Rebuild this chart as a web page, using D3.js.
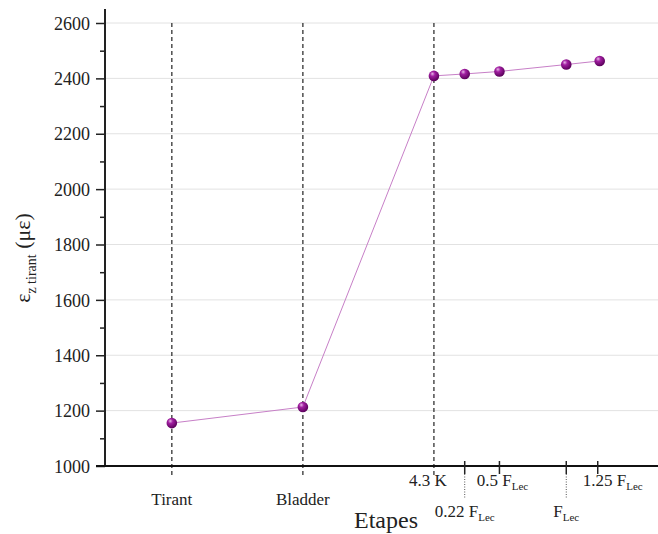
<!DOCTYPE html>
<html><head><meta charset="utf-8">
<script src="https://cdn.jsdelivr.net/npm/d3@7"></script>
<style>body{margin:0;background:#fff}svg{display:block}svg text{font-family:'Liberation Serif','Times New Roman',serif !important;fill:#222}</style>
</head><body><svg id="c" width="658" height="534"></svg>
<script>
const stageNames = ["Tirant","Bladder","4.3 K","0.22 F","0.5 F","F","1.25 F"];
const stageX = [1, 2, 3, 3.235, 3.5, 4.01, 4.265];
const strainValues = [1155, 1213, 2409, 2416, 2425, 2450, 2463];
const tickX = [3.235, 3.5, 4.01, 4.25];
const dashedStages = [0, 1, 2];
const yMajorTicks = [1000,1200,1400,1600,1800,2000,2200,2400,2600];
const yMinorTicks = [1100,1300,1500,1700,1900,2100,2300,2500];
const tickLabels = [
  {x:1, main:"Tirant", sub:"", row:"far", off:0},
  {x:2, main:"Bladder", sub:"", row:"far", off:0},
  {x:3, main:"4.3 K", sub:"", row:"top", off:-6},
  {x:3.235, main:"0.22 F", sub:"Lec", row:"low", off:0},
  {x:3.5, main:"0.5 F", sub:"Lec", row:"top", off:3},
  {x:4.01, main:"F", sub:"Lec", row:"low", off:0},
  {x:4.25, main:"1.25 F", sub:"Lec", row:"top", off:15}
];

const svg = d3.select("#c");
const L = 105, R = 658, T = 23, B = 466;
const x = d3.scaleLinear().domain([0.49, 4.71]).range([L, R]);
const y = d3.scaleLinear().domain([1000, 2600]).range([B, T]);

// gridlines
svg.append("g").selectAll("line").data(yMajorTicks.filter(v=>v>1000)).join("line")
  .attr("x1", L).attr("x2", R).attr("y1", d=>y(d)).attr("y2", d=>y(d))
  .attr("stroke", "#e2e2e2").attr("stroke-width", 1);

// dashed vertical lines
svg.append("g").selectAll("line").data(dashedStages).join("line")
  .attr("x1", d=>x(stageX[d])).attr("x2", d=>x(stageX[d]))
  .attr("y1", y(2600)).attr("y2", B + 10)
  .attr("stroke", "#333").attr("stroke-width", 1.3).attr("stroke-dasharray", "4,3");

// y axis
const yAxis = d3.axisLeft(y).tickValues(yMajorTicks).tickSize(9).tickPadding(6).tickFormat(d3.format("d"));
const gy = svg.append("g").attr("transform", `translate(${L},0)`).call(yAxis);
gy.attr("font-family", "Liberation Serif").attr("font-size", 18);
gy.select(".domain").remove();
gy.selectAll(".tick line").attr("stroke", "#222").attr("stroke-width", 1.5);
gy.selectAll(".tick text").attr("fill", "#222").attr("dy", "0.34em");
const gyMinor = svg.append("g").attr("transform", `translate(${L},0)`)
  .call(d3.axisLeft(y).tickValues(yMinorTicks).tickSize(5).tickFormat(""));
gyMinor.select(".domain").remove();
gyMinor.selectAll(".tick line").attr("stroke", "#222").attr("stroke-width", 1.5);
svg.append("line").attr("x1", L).attr("x2", L).attr("y1", 9).attr("y2", B)
  .attr("stroke", "#222").attr("stroke-width", 2);

// x axis
svg.append("line").attr("x1", L - 9).attr("x2", R).attr("y1", B).attr("y2", B)
  .attr("stroke", "#111").attr("stroke-width", 2);
svg.append("g").selectAll("line").data(tickX).join("line")
  .attr("x1", d=>x(d)).attr("x2", d=>x(d))
  .attr("y1", B - 5).attr("y2", B + 8).attr("stroke", "#222").attr("stroke-width", 1.5);
svg.append("g").selectAll("line").data([tickX[0], tickX[2]]).join("line")
  .attr("x1", d=>x(d)).attr("x2", d=>x(d))
  .attr("y1", B + 8).attr("y2", B + 32).attr("stroke", "#555").attr("stroke-width", 1).attr("stroke-dasharray", "1,1.5");

// x labels
const rowY = {far: 505, top: 486, low: 517};
tickLabels.forEach(t => {
  const tx = svg.append("text")
    .attr("x", x(t.x) + t.off).attr("y", rowY[t.row])
    .attr("text-anchor", "middle").style("font-size", "17px");
  tx.append("tspan").text(t.main);
  if (t.sub) tx.append("tspan").attr("dy", 4).style("font-size", "11px").text(t.sub);
});

// line
const pts = stageX.map((v,i)=>({x:v, y:strainValues[i]}));
svg.append("path").datum(pts)
  .attr("d", d3.line().x(d=>x(d.x)).y(d=>y(d.y)))
  .attr("fill", "none").attr("stroke", "#c77fc7").attr("stroke-width", 1);

// markers with sphere gradient
const defs = svg.append("defs");
const grad = defs.append("radialGradient").attr("id", "sph").attr("cx", "40%").attr("cy", "35%").attr("r", "65%").attr("fx","35%").attr("fy","30%");
grad.append("stop").attr("offset", "0%").attr("stop-color", "#e7b7e7");
grad.append("stop").attr("offset", "35%").attr("stop-color", "#a21fa2");
grad.append("stop").attr("offset", "100%").attr("stop-color", "#5a005a");
svg.append("g").selectAll("circle").data(pts).join("circle")
  .attr("cx", d=>x(d.x)).attr("cy", d=>y(d.y)).attr("r", 5.3)
  .attr("fill", "url(#sph)");

// titles
svg.append("text").attr("x", 386).attr("y", 528).attr("text-anchor", "middle")
  .style("font-size", "24px").text("Etapes");
const yl = svg.append("text").attr("transform", "translate(30,258) rotate(-90)")
  .attr("text-anchor", "middle").style("font-size", "22px");
yl.append("tspan").text("ε");
yl.append("tspan").attr("dy", 6).style("font-size", "14px").text("z tirant");
yl.append("tspan").attr("dy", -6).text(" (με)");
</script></body></html>
